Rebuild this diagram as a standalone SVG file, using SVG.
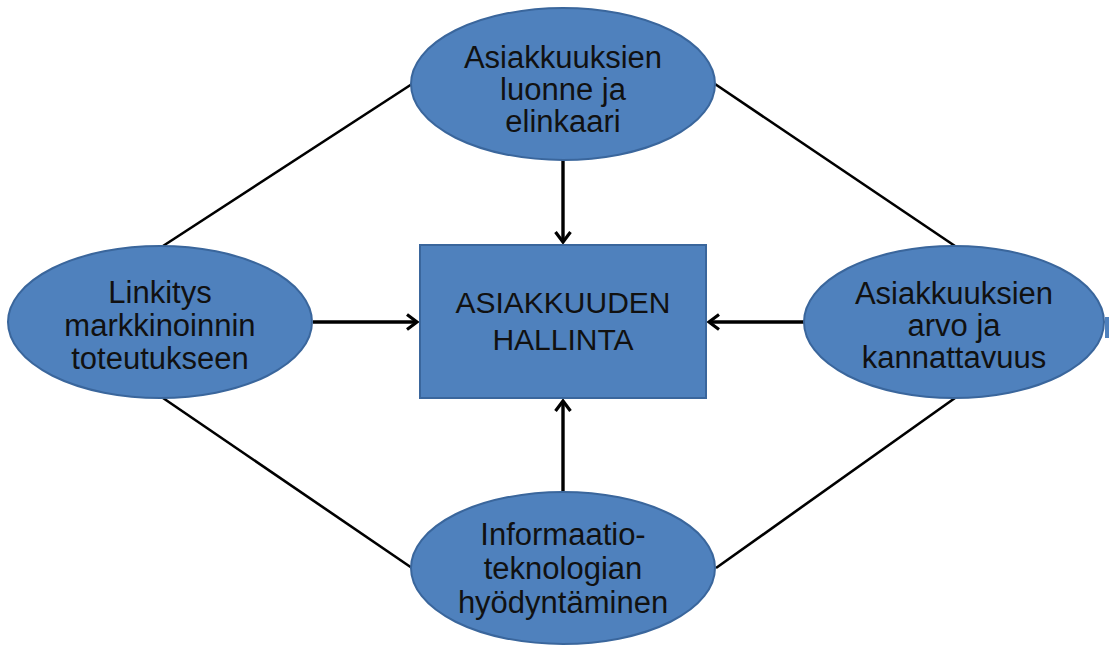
<svg xmlns="http://www.w3.org/2000/svg" width="1109" height="646" viewBox="0 0 1109 646">
<style>
.shape{fill:#4f81bd;stroke:#3a669c;stroke-width:2}
.t{font-family:"Liberation Sans",Arial,sans-serif;font-size:31px;fill:#111;text-anchor:middle}
.c{font-size:30px}
.ln{stroke:#000;stroke-width:2.6;fill:none}
.ar{stroke:#000;stroke-width:3.4;fill:none;marker-end:url(#chev)}
</style>
<defs>
<marker id="chev" viewBox="0 0 16 18" refX="13" refY="9" markerWidth="16" markerHeight="18" markerUnits="userSpaceOnUse" orient="auto">
<path d="M3,1.5 L13,9 L3,16.5" fill="none" stroke="#000" stroke-width="3.2"/>
</marker>
</defs>
<rect x="1105" y="317" width="6" height="21" fill="#4f81bd"/>
<g id="connectors">
<line class="ln" x1="412" y1="84" x2="163" y2="246"/>
<line class="ln" x1="715" y1="84" x2="955" y2="246"/>
<line class="ln" x1="163" y1="398" x2="412" y2="568"/>
<line class="ln" x1="955" y1="398" x2="716" y2="568"/>
<line class="ar" x1="563" y1="160" x2="563" y2="242"/>
<line class="ar" x1="313" y1="322" x2="417" y2="322"/>
<line class="ar" x1="804" y1="322" x2="709" y2="322"/>
<line class="ar" x1="563" y1="492" x2="563" y2="401"/>
</g>
<g id="center">
<rect class="shape" x="420" y="245" width="286" height="153"/>
<text class="t c" x="563" y="313">ASIAKKUUDEN</text>
<text class="t c" x="563" y="350">HALLINTA</text>
</g>
<g id="top">
<ellipse class="shape" cx="563" cy="84" rx="152" ry="76"/>
<text class="t" x="563" y="68">Asiakkuuksien</text>
<text class="t" x="563" y="100">luonne ja</text>
<text class="t" x="563" y="132">elinkaari</text>
</g>
<g id="left">
<ellipse class="shape" cx="160" cy="322" rx="152" ry="76"/>
<text class="t" x="160" y="303">Linkitys</text>
<text class="t" x="160" y="336">markkinoinnin</text>
<text class="t" x="160" y="369">toteutukseen</text>
</g>
<g id="right">
<ellipse class="shape" cx="954" cy="322" rx="150" ry="76"/>
<text class="t" x="954" y="304">Asiakkuuksien</text>
<text class="t" x="954" y="336">arvo ja</text>
<text class="t" x="954" y="368">kannattavuus</text>
</g>
<g id="bottom">
<ellipse class="shape" cx="563" cy="568" rx="152" ry="76"/>
<text class="t" x="563" y="545">Informaatio-</text>
<text class="t" x="563" y="579">teknologian</text>
<text class="t" x="563" y="613">hyödyntäminen</text>
</g>
</svg>
